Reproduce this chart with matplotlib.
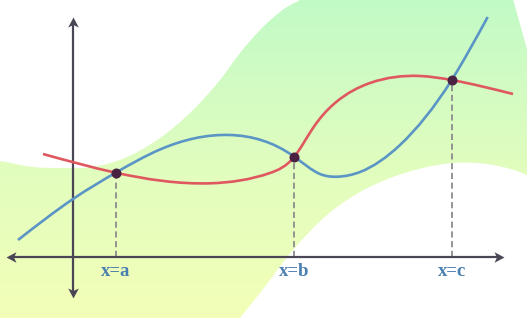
import numpy as np
import matplotlib
matplotlib.use("Agg")
import matplotlib.pyplot as plt
from matplotlib.path import Path
from matplotlib.patches import PathPatch
from matplotlib.colors import LinearSegmentedColormap

# ---- data (math coordinates, origin at the axes crossing) ----
blue_x = [-55, 0, 42.7, 87, 157, 221.3, 247, 265, 287, 327, 378.7, 414.7]
blue_y = [17, 58, 84.3, 107.5, 122, 100.3, 83, 80.3, 85, 112, 177, 240]

red_x = [-30, 42.7, 137, 197, 221.3, 240, 262, 297, 347, 378.7, 440]
red_y = [103, 84.3, 73.7, 84, 100.3, 129, 154, 174, 181, 177, 163]

cross_x = [42.7, 221.3, 378.7]
cross_y = [84.3, 100.3, 177]
cross_labels = ["x=a", "x=b", "x=c"]

band_top_x = [-80, -73, -40, -13, 20, 54, 87, 120, 147, 167, 187, 214, 227, 240]
band_top_y = [97, 96, 90, 89, 90, 100, 119, 147, 177, 204, 227, 250, 257, 266]
band_bot_x = [160, 167, 187, 220, 254, 287, 320, 354, 380, 420, 454, 462]
band_bot_y = [-70, -61, -36, 7, 42, 65, 80, 90, 94, 92, 82, 78]

XMIN, XMAX, YMIN, YMAX = -73, 454, -61, 257


def slopes_natural(x, y):
    n = len(x)
    h = np.diff(x)
    s = np.diff(y) / h
    A = np.zeros((n, n))
    r = np.zeros(n)
    A[0, 0] = A[-1, -1] = 1
    for i in range(1, n - 1):
        A[i, i - 1] = h[i - 1]
        A[i, i] = 2 * (h[i - 1] + h[i])
        A[i, i + 1] = h[i]
        r[i] = 6 * (s[i] - s[i - 1])
    M = np.linalg.solve(A, r)
    d = np.empty(n)
    d[:-1] = s - h * (2 * M[:-1] + M[1:]) / 6
    d[-1] = s[-1] + h[-1] * (M[-2] + 2 * M[-1]) / 6
    return d


def slopes_local(x, y):
    h = np.diff(x)
    s = np.diff(y) / h
    d = np.empty_like(y)
    d[1:-1] = (s[1:] * h[:-1] + s[:-1] * h[1:]) / (h[:-1] + h[1:])
    d[0] = s[0]
    d[-1] = s[-1]
    return d


def bezier(xs, ys, natural=True):
    x = np.asarray(xs, float)
    y = np.asarray(ys, float)
    d = slopes_natural(x, y) if natural else slopes_local(x, y)
    h = np.diff(x)
    verts = [(x[0], y[0])]
    codes = [Path.MOVETO]
    for i in range(len(x) - 1):
        k = h[i] / 3.0
        verts += [(x[i] + k, y[i] + d[i] * k), (x[i + 1] - k, y[i + 1] - d[i + 1] * k), (x[i + 1], y[i + 1])]
        codes += [Path.CURVE4] * 3
    return verts, codes


fig = plt.figure(figsize=(5.27, 3.18), dpi=100)
ax = fig.add_axes([0, 0, 1, 1])
ax.set_xlim(XMIN, XMAX)
ax.set_ylim(YMIN, YMAX)
ax.axis("off")

# ---- gradient band ----
tv, tc = bezier(band_top_x, band_top_y, natural=False)
bv, bc = bezier(band_bot_x, band_bot_y, natural=False)
bv = bv[::-1]
bc = [Path.LINETO] + [Path.CURVE4] * (len(bv) - 1)
verts = tv + [(440, 258), (470, 150)] + bv + [(-80, -70), tv[0]]
codes = tc + [Path.LINETO, Path.LINETO] + bc + [Path.LINETO, Path.CLOSEPOLY]
band = PathPatch(Path(verts, codes), facecolor="none", edgecolor="none", transform=ax.transData)
ax.add_patch(band)
cmap = LinearSegmentedColormap.from_list("band", ["#f3ffb8", "#e0fdbf", "#c2fac7"])
grad = np.linspace(0, 1, 256).reshape(-1, 1)
im = ax.imshow(grad, extent=[XMIN, XMAX, YMIN, YMAX], origin="lower", cmap=cmap,
               aspect="auto", zorder=0)
im.set_clip_path(band)

# ---- axes with arrows ----
axis_col = "#4b4656"
ax.plot([-62, 426], [0, 0], color=axis_col, lw=1.6, zorder=3, solid_capstyle="butt")
ax.plot([0, 0], [-36, 235], color=axis_col, lw=1.6, zorder=3, solid_capstyle="butt")

head = np.array([[0, 0], [0.53, -1], [0, -0.75], [-0.53, -1], [0, 0]])


def head_marker(angle_deg):
    a = np.deg2rad(angle_deg)
    R = np.array([[np.cos(a), -np.sin(a)], [np.sin(a), np.cos(a)]])
    return Path(head @ R.T, [Path.MOVETO, Path.LINETO, Path.LINETO, Path.LINETO, Path.CLOSEPOLY])


for (hx, hy), ang in [((-67, 0), 90), ((431, 0), -90), ((0, 240), 0), ((0, -41), 180)]:
    ax.plot([hx], [hy], marker=head_marker(ang), ms=14.4, color=axis_col,
            markeredgewidth=0, zorder=3)

# ---- dashed drop lines ----
for cx, cy in zip(cross_x, cross_y):
    ax.plot([cx, cx], [0, cy], color="#8c8c8c", lw=1.3, dashes=(3.4, 2.0), zorder=2)

# ---- curves ----
rv, rc = bezier(red_x, red_y)
ax.add_patch(PathPatch(Path(rv, rc), facecolor="none", edgecolor="#e0585f", lw=1.9,
                       capstyle="butt", zorder=4))
bv2, bc2 = bezier(blue_x, blue_y)
ax.add_patch(PathPatch(Path(bv2, bc2), facecolor="none", edgecolor="#5b95c5", lw=1.9,
                       capstyle="butt", zorder=5))

ax.plot(cross_x, cross_y, "o", color="#4a2241", ms=6.2, zorder=6)

for cx, lab in zip(cross_x, cross_labels):
    ax.text(cx, -14, lab, ha="center", va="center", color="#4a7fb0",
            fontsize=13.5, fontweight="bold", family="Liberation Serif", zorder=6)

fig.savefig("out.png", dpi=100)
